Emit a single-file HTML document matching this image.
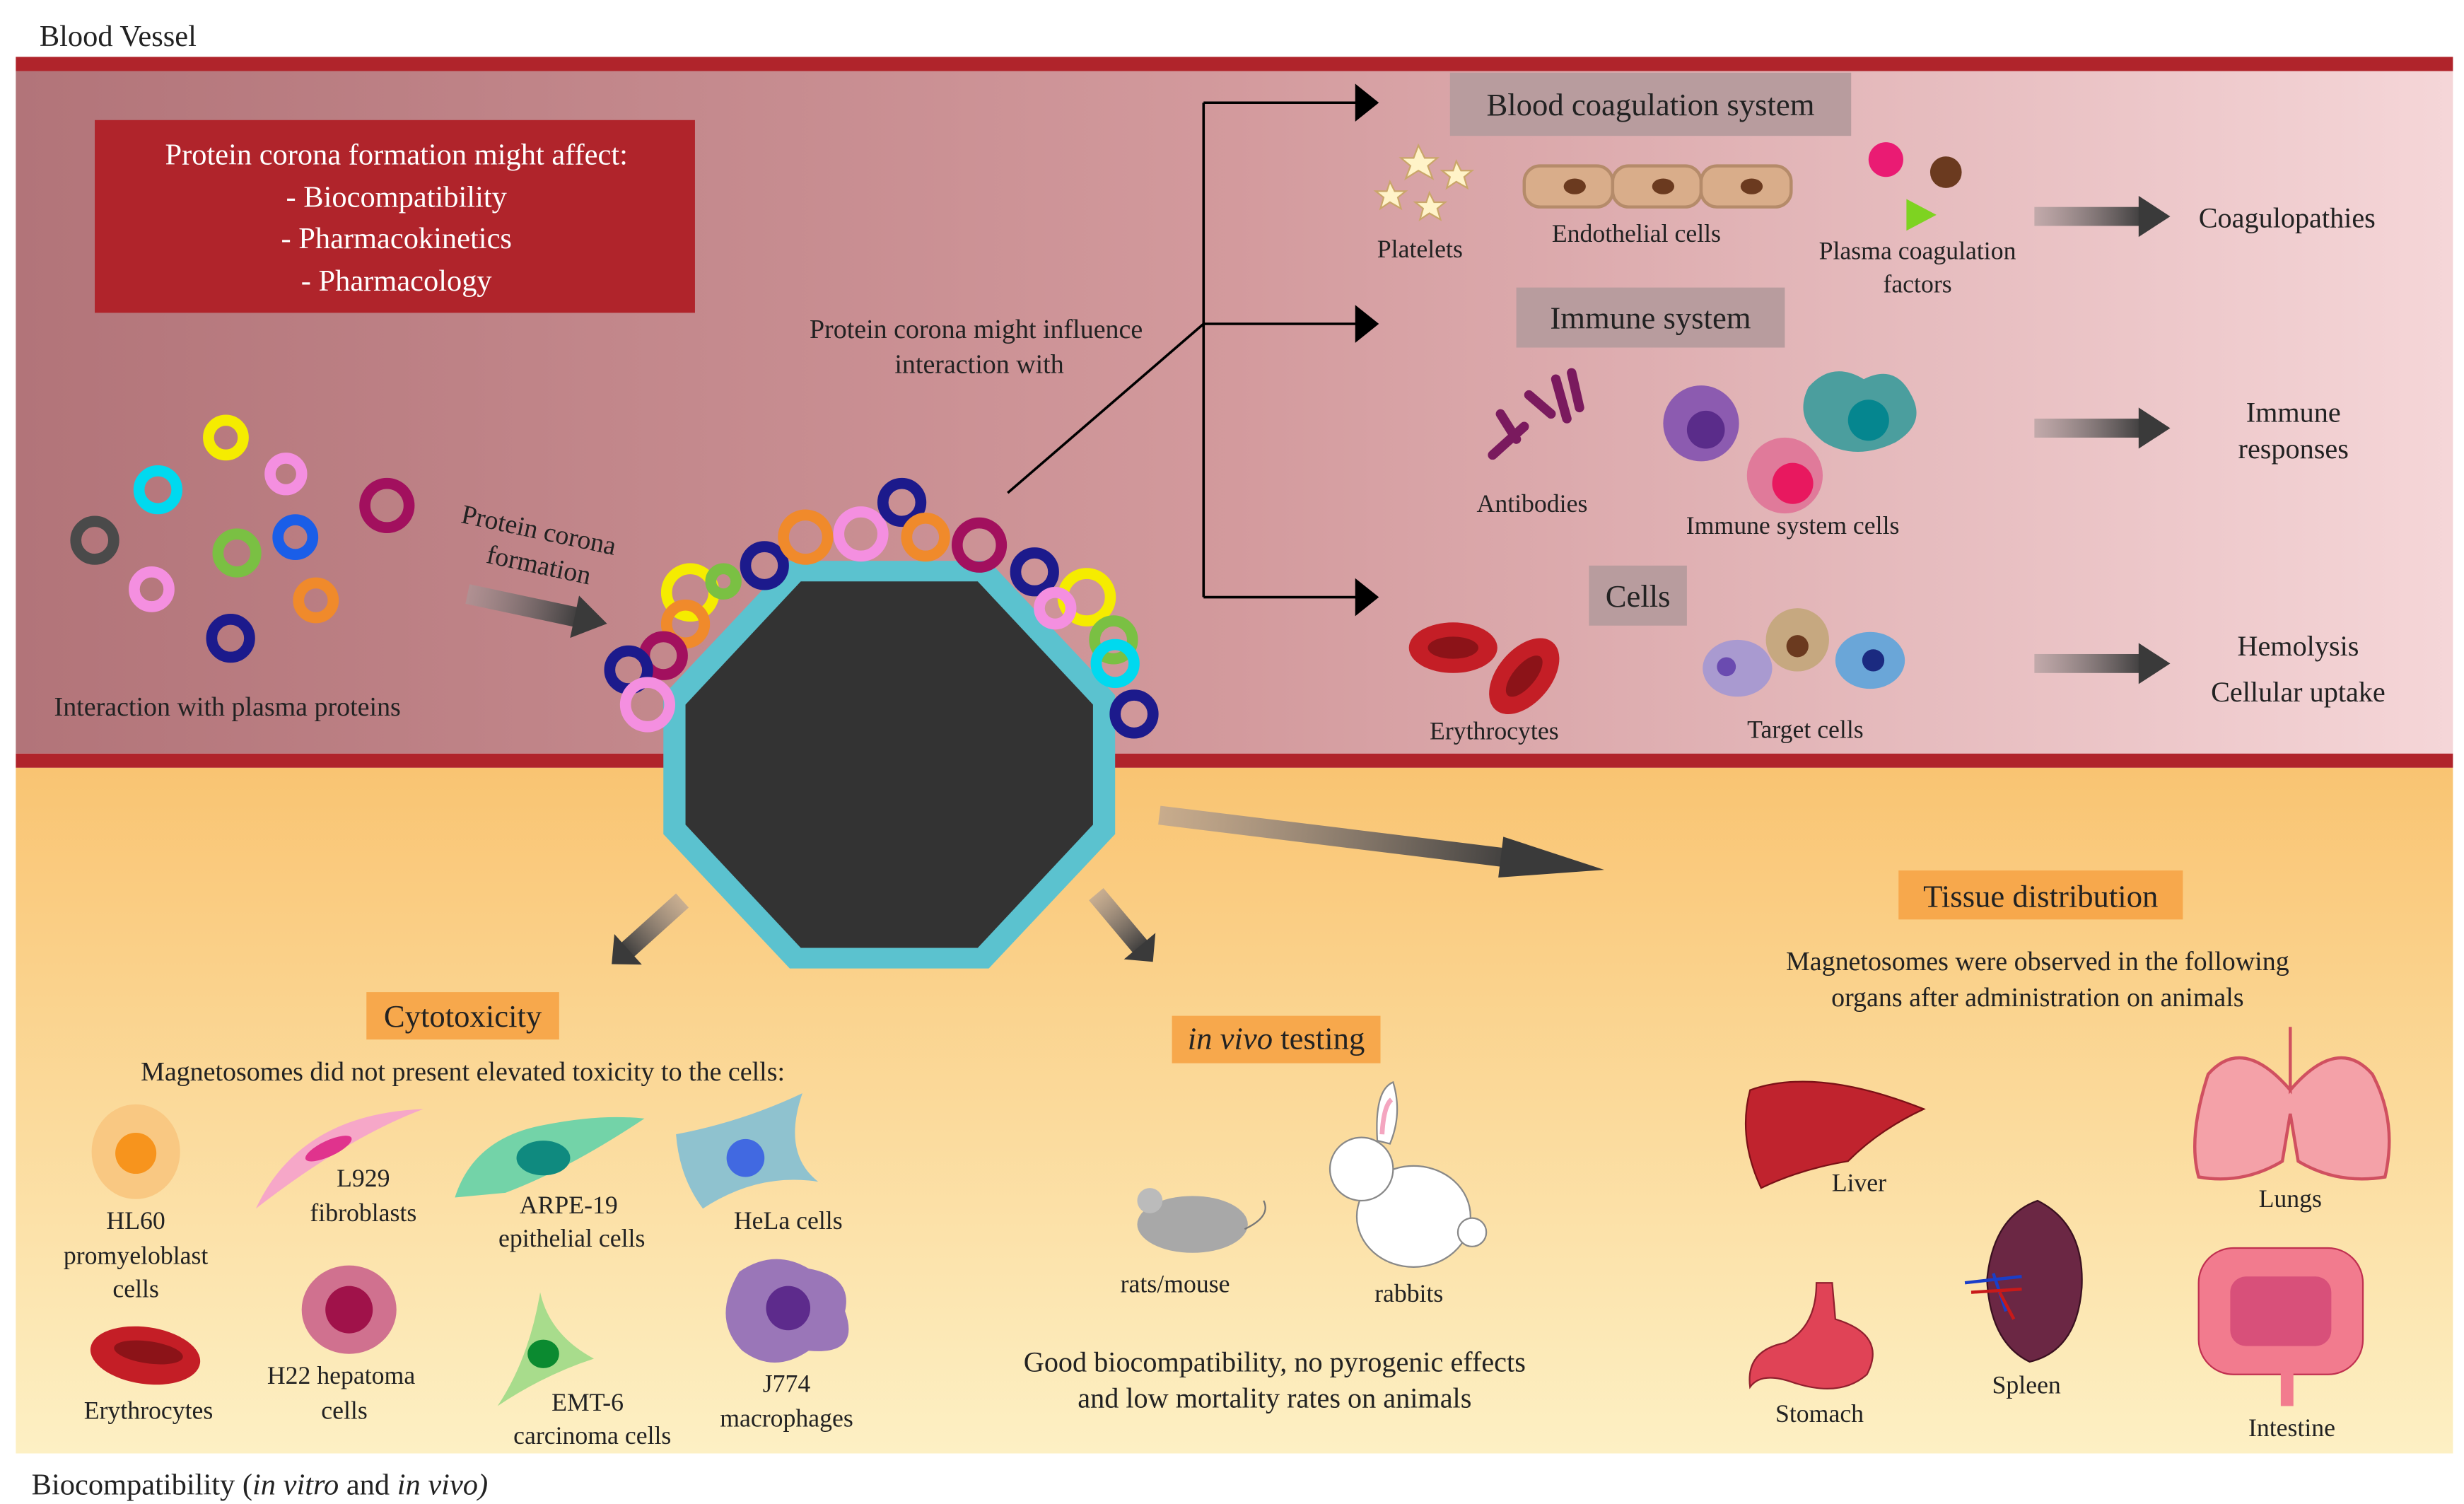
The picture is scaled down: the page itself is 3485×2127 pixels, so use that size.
<!DOCTYPE html>
<html><head><meta charset="utf-8"><style>
html,body{margin:0;padding:0;background:#fff;}
svg{display:block;}
text{font-family:"Liberation Serif",serif;fill:#222;}
</style></head><body>
<svg width="3485" height="2127" viewBox="0 0 1560 952" preserveAspectRatio="none" xmlns="http://www.w3.org/2000/svg">
<defs>
<linearGradient id="pk" x1="0" x2="1" y1="0" y2="0"><stop offset="0" stop-color="#b27479"/><stop offset="0.5" stop-color="#d39a9d"/><stop offset="1" stop-color="#f5d6d8"/></linearGradient>
<linearGradient id="yl" x1="0" x2="0" y1="0" y2="1"><stop offset="0" stop-color="#f9c472"/><stop offset="1" stop-color="#fdf0c4"/></linearGradient>
<linearGradient id="ar" x1="0" x2="1"><stop offset="0" stop-color="#a89a9a" stop-opacity="0.6"/><stop offset="1" stop-color="#3a3a3a"/></linearGradient>
<marker id="mk" markerWidth="8" markerHeight="8" refX="6" refY="4" orient="auto" markerUnits="userSpaceOnUse"><path d="M0,0 L14,4 L0,8z" fill="#000" transform="scale(1)"/></marker>
<g id="ga"><rect x="0" y="-6" width="70" height="12" fill="url(#ar)"/><path d="M66,-13 L86,0 L66,13z" fill="#3a3a3a"/></g>
</defs>
<rect x="0" y="0" width="1560" height="952" fill="#fff"/>
<text x="25" y="29" font-size="19">Blood Vessel</text>
<rect x="10" y="36" width="1543" height="9" fill="#b0242b"/>
<rect x="10" y="45" width="1543" height="432" fill="url(#pk)"/>
<rect x="10" y="477" width="1543" height="9" fill="#b0242b"/>
<rect x="10" y="486" width="1543" height="434" fill="url(#yl)"/>
<text x="20" y="946" font-size="19">Biocompatibility (<tspan font-style="italic">in vitro</tspan> and <tspan font-style="italic">in vivo)</tspan></text>

<rect x="60" y="76" width="380" height="122" fill="#b0242b"/>
<g font-size="19" text-anchor="middle" style="fill:#fff"><text x="251" y="104" style="fill:#fff">Protein corona formation might affect:</text><text x="251" y="131" style="fill:#fff">- Biocompatibility</text><text x="251" y="157" style="fill:#fff">- Pharmacokinetics</text><text x="251" y="184" style="fill:#fff">- Pharmacology</text></g>

<!-- proteins -->
<g fill="none" stroke-width="7" stroke-linecap="round">
<circle cx="143" cy="277" r="11" stroke="#f5ec00"/><circle cx="100" cy="310" r="12" stroke="#00d9ef"/><circle cx="181" cy="300" r="10" stroke="#f48fe0"/>
<circle cx="245" cy="320" r="14" stroke="#a2105e"/><circle cx="60" cy="342" r="12" stroke="#4a4a4a"/><circle cx="150" cy="350" r="12" stroke="#7ac043"/>
<circle cx="187" cy="340" r="11" stroke="#1a5ee8"/><circle cx="96" cy="373" r="11" stroke="#f48fe0"/><circle cx="200" cy="380" r="11" stroke="#f08a2b"/>
<circle cx="146" cy="404" r="12" stroke="#1c1a8c"/>
</g>
<text x="144" y="453" font-size="17" text-anchor="middle">Interaction with plasma proteins</text>
<text x="340" y="341" font-size="17" text-anchor="middle" transform="rotate(12 340 341)">Protein corona</text>
<text x="340" y="363" font-size="17" text-anchor="middle" transform="rotate(12 340 363)">formation</text>
<use href="#ga" transform="translate(296,376) rotate(12) scale(1.05)"/>

<!-- octagon -->
<polygon points="500,355 626,355 706,440 706,528 626,613 500,613 420,528 420,440" fill="#5bc2cf"/>
<polygon points="507,368 619,368 692,446 692,522 619,600 507,600 434,522 434,446" fill="#333"/>
<g fill="none" stroke-width="7">
<circle cx="437" cy="375" r="15" stroke="#f5ec00"/><circle cx="434" cy="395" r="12" stroke="#f08a2b"/><circle cx="420" cy="415" r="12" stroke="#a2105e"/>
<circle cx="398" cy="424" r="12" stroke="#1c1a8c"/><circle cx="410" cy="446" r="14" stroke="#f48fe0"/><circle cx="484" cy="358" r="12" stroke="#1c1a8c"/>
<circle cx="510" cy="340" r="14" stroke="#f08a2b"/><circle cx="545" cy="338" r="14" stroke="#f48fe0"/><circle cx="571" cy="318" r="12" stroke="#1c1a8c"/>
<circle cx="586" cy="340" r="12" stroke="#f08a2b"/><circle cx="620" cy="345" r="14" stroke="#a2105e"/><circle cx="655" cy="362" r="12" stroke="#1c1a8c"/>
<circle cx="688" cy="378" r="15" stroke="#f5ec00"/><circle cx="668" cy="385" r="10" stroke="#f48fe0"/><circle cx="705" cy="405" r="12" stroke="#7ac043"/>
<circle cx="706" cy="420" r="12" stroke="#00d9ef"/><circle cx="718" cy="452" r="12" stroke="#1c1a8c"/><circle cx="458" cy="368" r="8" stroke="#7ac043"/>
</g>

<text x="618" y="214" font-size="17" text-anchor="middle">Protein corona might influence</text>
<text x="620" y="236" font-size="17" text-anchor="middle">interaction with</text>
<g stroke="#000" stroke-width="1.6" fill="none"><line x1="638" y1="312" x2="762" y2="205"/><line x1="762" y1="65" x2="762" y2="378"/><line x1="762" y1="65" x2="860" y2="65"/><line x1="762" y1="205" x2="860" y2="205"/><line x1="762" y1="378" x2="860" y2="378"/></g>
<g fill="#000"><path d="M858,53 L873,65 L858,77z"/><path d="M858,193 L873,205 L858,217z"/><path d="M858,366 L873,378 L858,390z"/></g>

<rect x="918" y="46" width="254" height="40" fill="#b89c9e"/><text x="1045" y="73" font-size="20" text-anchor="middle">Blood coagulation system</text>
<rect x="960" y="182" width="170" height="38" fill="#b89c9e"/><text x="1045" y="208" font-size="20" text-anchor="middle">Immune system</text>
<rect x="1006" y="358" width="62" height="38" fill="#b89c9e"/><text x="1037" y="384" font-size="20" text-anchor="middle">Cells</text>

<!-- coagulation row -->
<g fill="#fff3c8" stroke="#caa66a"><path d="M898,92 l4,8 8,0 -6,5 3,8 -9,-5 -8,5 3,-8 -6,-5 8,0z"/><path d="M880,115 l3,6 7,0 -5,4 2,7 -7,-4 -6,4 2,-7 -5,-4 7,0z"/><path d="M922,102 l3,6 7,0 -5,4 2,7 -7,-4 -6,4 2,-7 -5,-4 7,0z"/><path d="M905,122 l3,6 7,0 -5,4 2,7 -7,-4 -6,4 2,-7 -5,-4 7,0z"/></g>
<text x="899" y="163" font-size="16" text-anchor="middle">Platelets</text>
<g fill="#d9ad8a" stroke="#b58b6a" stroke-width="2"><rect x="965" y="105" width="56" height="26" rx="10"/><rect x="1021" y="105" width="56" height="26" rx="10"/><rect x="1077" y="105" width="57" height="26" rx="10"/></g>
<g fill="#6b3a1f"><ellipse cx="997" cy="118" rx="7" ry="5"/><ellipse cx="1053" cy="118" rx="7" ry="5"/><ellipse cx="1109" cy="118" rx="7" ry="5"/></g>
<text x="1036" y="153" font-size="16" text-anchor="middle">Endothelial cells</text>
<circle cx="1194" cy="101" r="11" fill="#ea1b73"/><circle cx="1232" cy="109" r="10" fill="#6b3a1f"/><path d="M1207,126 L1226,136 L1207,146z" fill="#7ed321"/>
<text x="1214" y="164" font-size="16" text-anchor="middle">Plasma coagulation</text><text x="1214" y="185" font-size="16" text-anchor="middle">factors</text>
<use href="#ga" transform="translate(1288,137)"/>
<text x="1448" y="144" font-size="18" text-anchor="middle">Coagulopathies</text>

<!-- immune row -->
<g stroke="#7a1a5e" stroke-width="6" stroke-linecap="round"><line x1="945" y1="288" x2="965" y2="270"/><line x1="950" y1="262" x2="960" y2="278"/><line x1="968" y1="250" x2="982" y2="262"/><line x1="985" y1="240" x2="992" y2="265"/><line x1="995" y1="236" x2="1000" y2="258"/></g>
<text x="970" y="324" font-size="16" text-anchor="middle">Antibodies</text>
<circle cx="1077" cy="268" r="24" fill="#8c5bb0"/><circle cx="1080" cy="272" r="12" fill="#5a2c8a"/>
<path d="M1145,245 Q1160,228 1180,240 Q1200,230 1210,250 Q1220,268 1200,280 Q1175,292 1155,280 Q1135,265 1145,245z" fill="#4b9e9e"/><circle cx="1183" cy="266" r="13" fill="#05868f"/>
<circle cx="1130" cy="301" r="24" fill="#e07a9a"/><circle cx="1135" cy="306" r="13" fill="#e8185f"/>
<text x="1135" y="338" font-size="16" text-anchor="middle">Immune system cells</text>
<use href="#ga" transform="translate(1288,271)"/>
<text x="1452" y="267" font-size="18" text-anchor="middle">Immune</text><text x="1452" y="290" font-size="18" text-anchor="middle">responses</text>

<!-- cells row -->
<ellipse cx="920" cy="410" rx="28" ry="16" fill="#c41e26"/><ellipse cx="920" cy="410" rx="16" ry="7" fill="#8c1318"/>
<ellipse cx="965" cy="428" rx="28" ry="17" transform="rotate(-50 965 428)" fill="#c41e26"/><ellipse cx="965" cy="428" rx="16" ry="7" transform="rotate(-50 965 428)" fill="#8c1318"/>
<text x="946" y="468" font-size="16" text-anchor="middle">Erythrocytes</text>
<ellipse cx="1100" cy="423" rx="22" ry="18" fill="#a99ad0"/><circle cx="1093" cy="422" r="6" fill="#6a4bb0"/>
<ellipse cx="1138" cy="405" rx="20" ry="20" fill="#c6a880"/><circle cx="1138" cy="409" r="7" fill="#6b3a1f"/>
<ellipse cx="1184" cy="418" rx="22" ry="18" fill="#6aa6d8"/><circle cx="1186" cy="418" r="7" fill="#1b2a80"/>
<text x="1143" y="467" font-size="16" text-anchor="middle">Target cells</text>
<use href="#ga" transform="translate(1288,420)"/>
<text x="1455" y="415" font-size="18" text-anchor="middle">Hemolysis</text><text x="1455" y="444" font-size="18" text-anchor="middle">Cellular uptake</text>

<!-- lower arrows -->
<use href="#ga" transform="translate(734,516) rotate(7) scale(3.3,1)"/>
<use href="#ga" transform="translate(432,570) rotate(138) scale(0.7,1)"/>
<use href="#ga" transform="translate(694,566) rotate(50) scale(0.65,1)"/>

<rect x="232" y="628" width="122" height="30" fill="#f7a84c"/><text x="293" y="650" font-size="20" text-anchor="middle">Cytotoxicity</text>
<text x="293" y="684" font-size="17" text-anchor="middle">Magnetosomes did not present elevated toxicity to the cells:</text>
<rect x="742" y="643" width="132" height="30" fill="#f7a84c"/><text x="808" y="664" font-size="20" text-anchor="middle"><tspan font-style="italic">in vivo</tspan> testing</text>
<rect x="1202" y="551" width="180" height="31" fill="#f7a84c"/><text x="1292" y="574" font-size="20" text-anchor="middle">Tissue distribution</text>
<text x="1290" y="614" font-size="17" text-anchor="middle">Magnetosomes were observed in the following</text>
<text x="1290" y="637" font-size="17" text-anchor="middle">organs after administration on animals</text>

<!-- cytotox cells -->
<ellipse cx="86" cy="729" rx="28" ry="30" fill="#f9c882"/><circle cx="86" cy="730" r="13" fill="#f7941d"/>
<text x="86" y="778" font-size="16" text-anchor="middle">HL60</text><text x="86" y="800" font-size="16" text-anchor="middle">promyeloblast</text><text x="86" y="821" font-size="16" text-anchor="middle">cells</text>
<path d="M162,765 Q190,705 268,702 Q220,720 162,765z" fill="#f6a7c8"/><ellipse cx="208" cy="727" rx="16" ry="5" transform="rotate(-25 208 727)" fill="#e0338d"/>
<text x="230" y="751" font-size="16" text-anchor="middle">L929</text><text x="230" y="773" font-size="16" text-anchor="middle">fibroblasts</text>
<path d="M288,758 Q300,720 345,712 Q380,705 408,708 Q360,740 320,755z" fill="#73d3a8"/><ellipse cx="344" cy="733" rx="17" ry="11" fill="#0f8a7f"/>
<text x="360" y="768" font-size="16" text-anchor="middle">ARPE-19</text><text x="362" y="789" font-size="16" text-anchor="middle">epithelial cells</text>
<path d="M428,718 Q470,710 508,692 Q495,730 518,748 Q480,742 445,765 Q430,745 428,718z" fill="#8fc2cf"/><circle cx="472" cy="733" r="12" fill="#4169e1"/>
<text x="499" y="778" font-size="16" text-anchor="middle">HeLa cells</text>
<ellipse cx="92" cy="858" rx="35" ry="18" transform="rotate(8 92 858)" fill="#c41e26"/><ellipse cx="94" cy="856" rx="22" ry="7" transform="rotate(8 94 856)" fill="#8c1318"/>
<text x="94" y="898" font-size="16" text-anchor="middle">Erythrocytes</text>
<ellipse cx="221" cy="829" rx="30" ry="28" fill="#d0718f"/><circle cx="221" cy="829" r="15" fill="#a0124a"/>
<text x="216" y="876" font-size="16" text-anchor="middle">H22 hepatoma</text><text x="218" y="898" font-size="16" text-anchor="middle">cells</text>
<path d="M342,818 Q348,845 376,860 Q345,870 315,890 Q335,860 342,818z" fill="#a8dc8c"/><ellipse cx="344" cy="857" rx="10" ry="9" fill="#0b8a30"/>
<text x="372" y="893" font-size="16" text-anchor="middle">EMT-6</text><text x="375" y="914" font-size="16" text-anchor="middle">carcinoma cells</text>
<path d="M468,805 Q490,790 512,803 Q540,808 535,830 Q545,858 512,855 Q490,870 470,855 Q450,835 468,805z" fill="#9a76b8"/><circle cx="499" cy="828" r="14" fill="#5d2b8c"/>
<text x="498" y="881" font-size="16" text-anchor="middle">J774</text><text x="498" y="903" font-size="16" text-anchor="middle">macrophages</text>

<!-- animals -->
<ellipse cx="755" cy="775" rx="35" ry="18" fill="#a8a8a8"/><circle cx="728" cy="760" r="8" fill="#bbb"/><path d="M788,778 Q805,770 800,760" stroke="#777" fill="none"/>
<text x="744" y="818" font-size="16" text-anchor="middle">rats/mouse</text>
<ellipse cx="895" cy="770" rx="36" ry="32" fill="#fff" stroke="#888"/><circle cx="862" cy="740" r="20" fill="#fff" stroke="#888"/><path d="M872,722 Q870,690 882,685 Q888,705 880,724z" fill="#fff" stroke="#888"/><path d="M875,718 Q876,700 881,696" stroke="#f4a6c0" stroke-width="3" fill="none"/><circle cx="932" cy="780" r="9" fill="#fff" stroke="#888"/>
<text x="892" y="824" font-size="16" text-anchor="middle">rabbits</text>
<text x="807" y="868" font-size="18" text-anchor="middle">Good biocompatibility, no pyrogenic effects</text>
<text x="807" y="891" font-size="18" text-anchor="middle">and low mortality rates on animals</text>

<!-- organs -->
<path d="M1108,690 Q1150,675 1218,702 Q1190,715 1170,735 Q1140,740 1115,752 Q1100,720 1108,690z" fill="#c0232e" stroke="#7a1016"/>
<text x="1177" y="754" font-size="16" text-anchor="middle">Liver</text>
<path d="M1450,650 L1450,690 Q1420,655 1398,680 Q1385,720 1392,745 Q1420,750 1445,735 L1450,705 L1455,735 Q1480,750 1510,745 Q1518,710 1502,680 Q1480,655 1450,690z" fill="#f4a1a8" stroke="#d05060" stroke-width="2"/>
<text x="1450" y="764" font-size="16" text-anchor="middle">Lungs</text>
<path d="M1290,760 Q1320,775 1318,815 Q1315,855 1285,862 Q1260,850 1258,810 Q1262,770 1290,760z" fill="#6b2744" stroke="#3a1020"/><path d="M1244,812 L1280,808 M1262,806 L1270,830" stroke="#1a3ec8" stroke-width="2"/><path d="M1248,818 L1280,816 M1266,818 L1275,835" stroke="#c81a1a" stroke-width="2"/>
<text x="1283" y="882" font-size="16" text-anchor="middle">Spleen</text>
<path d="M1150,812 L1160,812 L1162,835 Q1195,845 1182,870 Q1165,885 1135,875 Q1115,868 1108,878 Q1105,855 1130,850 Q1150,840 1150,812z" fill="#e04356" stroke="#90202e"/>
<text x="1152" y="900" font-size="16" text-anchor="middle">Stomach</text>
<rect x="1392" y="790" width="104" height="80" rx="22" fill="#f27b8e" stroke="#c03050"/><rect x="1412" y="808" width="64" height="44" rx="10" fill="#d8507a"/><rect x="1444" y="868" width="8" height="22" fill="#f27b8e"/>
<text x="1451" y="909" font-size="16" text-anchor="middle">Intestine</text>
</svg>
</body></html>
